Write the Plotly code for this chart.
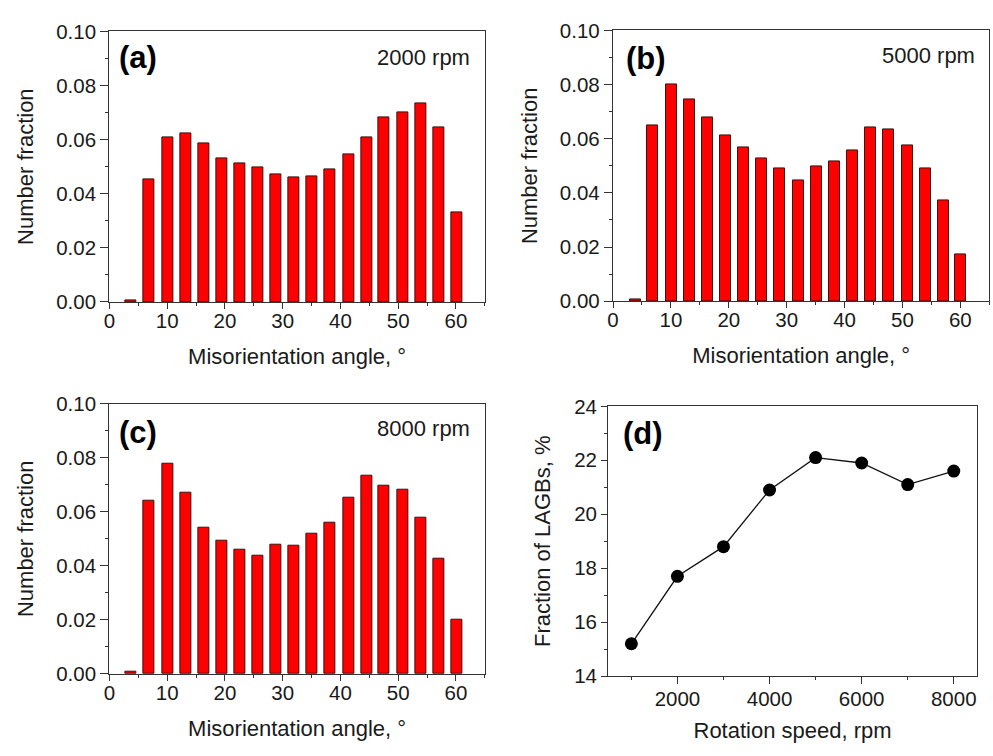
import plotly.graph_objects as go

W, H = 993, 756

# Misorientation-angle bin centres (degrees) and number fractions
angle = [3.8, 6.9, 10.1, 13.2, 16.3, 19.5, 22.6, 25.7, 28.8, 32.0,
         35.1, 38.2, 41.4, 44.5, 47.6, 50.8, 53.9, 57.0, 60.1]
frac_2000 = [0.0007, 0.0453, 0.0608, 0.0622, 0.0587, 0.0532, 0.0513, 0.0497, 0.0472, 0.0461,
             0.0465, 0.0491, 0.0545, 0.0608, 0.0682, 0.0699, 0.0735, 0.0644, 0.0331]
frac_5000 = [0.0007, 0.0648, 0.0800, 0.0745, 0.0680, 0.0612, 0.0569, 0.0527, 0.0490, 0.0445,
             0.0498, 0.0516, 0.0557, 0.0642, 0.0634, 0.0575, 0.0489, 0.0372, 0.0172]
frac_8000 = [0.0008, 0.0642, 0.0779, 0.0670, 0.0542, 0.0492, 0.0458, 0.0439, 0.0477, 0.0474,
             0.0518, 0.0559, 0.0651, 0.0734, 0.0695, 0.0681, 0.0578, 0.0426, 0.0200]

# LAGB fraction versus rotation speed
speed = [1000, 2000, 3000, 4000, 5000, 6000, 7000, 8000]
lagb = [15.2, 17.7, 18.8, 20.9, 22.1, 21.9, 21.1, 21.6]

panel_tags = ["(a)", "(b)", "(c)", "(d)"]
speed_tags = ["2000 rpm", "5000 rpm", "8000 rpm"]

FONT = "Arial, Liberation Sans, sans-serif"
INK = "#1a1a1a"
LINE = "#333333"
TICK_SIZE = 20.5
TITLE_SIZE = 22


def px_x(p):
    return p / W


def px_y(p):
    return 1 - p / H


# plot-area boxes in pixels: left, right, top, bottom
boxes = [
    (104, 481.7, 20, 299),
    (610.7, 989.3, 19, 298.3),
    (104, 481.7, 404, 682.7),
    (606, 976.7, 406.7, 685),
]

fig = go.Figure()

series = [frac_2000, frac_5000, frac_8000]
for i, vals in enumerate(series):
    n = "" if i == 0 else str(i + 1)
    fig.add_trace(go.Bar(
        x=angle, y=vals, width=1.9,
        marker=dict(color="#ff0000", line=dict(color="#3a1010", width=1)),
        xaxis="x" + n, yaxis="y" + n, showlegend=False,
    ))

fig.add_trace(go.Scatter(
    x=speed, y=lagb, mode="lines+markers",
    line=dict(color="#111111", width=1.3),
    marker=dict(color="#000000", size=13),
    xaxis="x4", yaxis="y4", showlegend=False,
))

layout = dict(
    width=W, height=H,
    margin=dict(l=0, r=0, t=0, b=0),
    paper_bgcolor="white", plot_bgcolor="white",
    font=dict(family=FONT, size=TICK_SIZE, color=INK),
    bargap=0,
)

tick_font = dict(family=FONT, size=TICK_SIZE, color=INK)
title_font = dict(family=FONT, size=TITLE_SIZE, color=INK)

for i, (l, r, t, b) in enumerate(boxes):
    n = "" if i == 0 else str(i + 1)
    common = dict(
        showline=True, linecolor=LINE, linewidth=1.4, mirror=True,
        ticks="outside", tickwidth=1.2, tickcolor=LINE,
        showgrid=False, zeroline=False, tickfont=tick_font,
    )
    if i < 3:
        xa = dict(domain=[px_x(l), px_x(r)], range=[0, 65], dtick=10, tick0=0, ticklen=6,
                  ticklabelstandoff=-6,
                  minor=dict(ticks="outside", dtick=5, ticklen=3, tickcolor=LINE),
                  title=dict(text="Misorientation angle, °", font=title_font, standoff=17),
                  anchor="y" + n, **common)
        ya = dict(domain=[px_y(b), px_y(t)], range=[0, 0.1], dtick=0.02, tick0=0, ticklen=8,
                  tickformat=".2f",
                  minor=dict(ticks="outside", dtick=0.01, ticklen=3, tickcolor=LINE),
                  title=dict(text="Number fraction", font=title_font, standoff=16),
                  anchor="x" + n, **common)
    else:
        xa = dict(domain=[px_x(l), px_x(r)], range=[500, 8500], dtick=2000, tick0=0, ticklen=7,
                  ticklabelstandoff=-3,
                  minor=dict(ticks="outside", dtick=1000, ticklen=3, tickcolor=LINE),
                  title=dict(text="Rotation speed, rpm", font=title_font, standoff=13),
                  anchor="y" + n, **common)
        ya = dict(domain=[px_y(b), px_y(t)], range=[14, 24], dtick=2, tick0=14, ticklen=6,
                  minor=dict(ticks="outside", dtick=1, ticklen=3, tickcolor=LINE),
                  title=dict(text="Fraction of LAGBs, %", font=title_font, standoff=17),
                  anchor="x" + n, **common)
    layout["xaxis" + n] = xa
    layout["yaxis" + n] = ya

fig.update_layout(**layout)

# panel letters and speed labels
tag_pos = [(111.7, 47), (621.7, 47.5), (111.7, 434), (619, 435)]
for tag, (x, y) in zip(panel_tags, tag_pos):
    fig.add_annotation(text="<b>%s</b>" % tag, x=px_x(x), y=px_y(y), xref="paper", yref="paper",
                       xanchor="left", yanchor="middle", showarrow=False,
                       font=dict(family=FONT, size=31, color="#000000"))

speed_pos = [(469, 47), (976.7, 44.5), (469, 430)]
for lab, (x, y) in zip(speed_tags, speed_pos):
    fig.add_annotation(text=lab, x=px_x(x), y=px_y(y), xref="paper", yref="paper",
                       xanchor="right", yanchor="middle", showarrow=False,
                       font=dict(family=FONT, size=TITLE_SIZE, color=INK))

fig.write_html("out.html")
